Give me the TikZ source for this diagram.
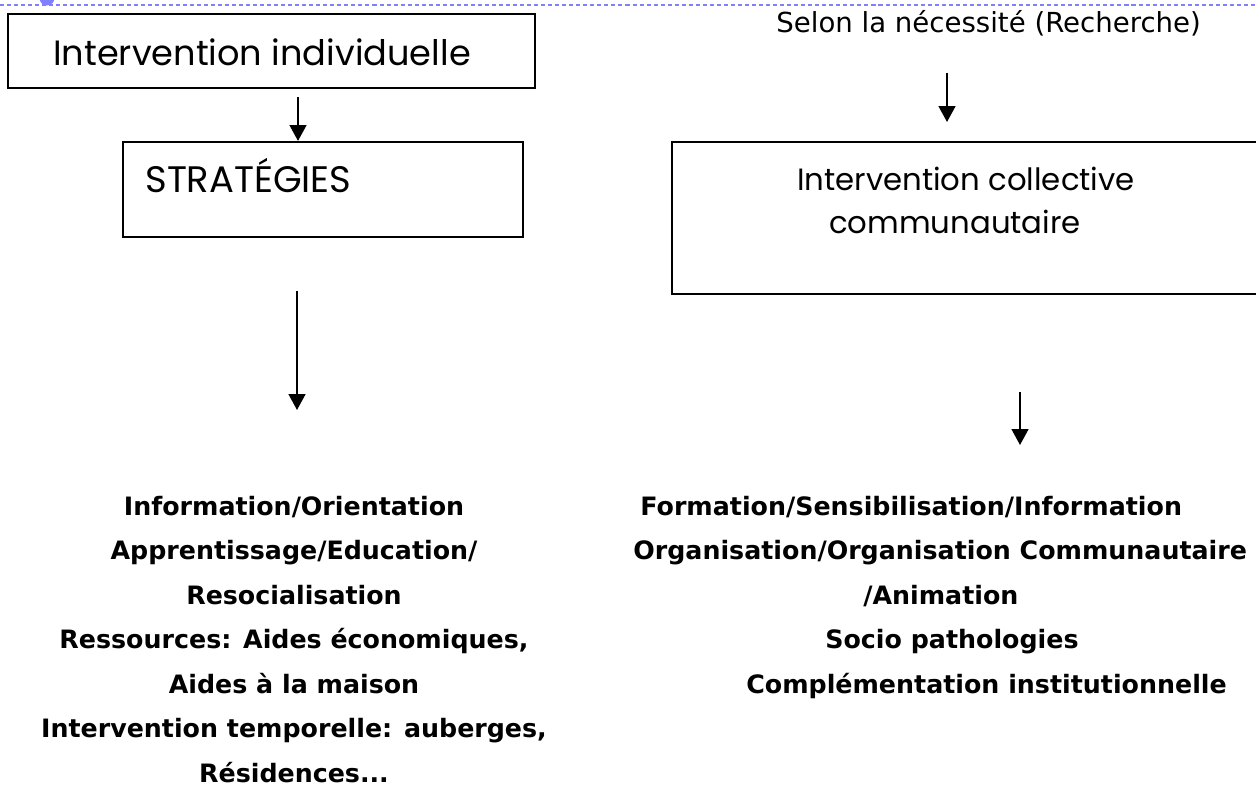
\documentclass[tikz,border=0pt]{standalone}
\usepackage{fontspec}
\setmainfont{DejaVu Sans}
\newfontfamily\comicfont{Poppins}
\usepackage{tikz}
\usetikzlibrary{arrows.meta, positioning}
\usetikzlibrary{calc}

\definecolor{bleutrait}{RGB}{128,128,255}

\tikzset{
  boite/.style={draw, rectangle, line width=1.2pt, inner sep=0pt},
  fleche/.style={-{Triangle[width=9.5pt,length=9pt]}, line width=1.1pt},
  liste/.style={font=\fontsize{14.4}{17}\selectfont\bfseries, inner sep=0pt},
  titre/.style={font=\comicfont\fontsize{20}{24}\selectfont, inner sep=0pt, anchor=base},
}

\begin{document}
\begin{tikzpicture}[x=0.02cm, y=-0.02cm]

  \useasboundingbox (0,0) rectangle (1256,787);
  \clip (0,0) rectangle (1256,787);

  % ==== Top border ====
  \fill[bleutrait] (47,-2) circle (0.15cm);
  \draw[bleutrait, line width=1.4pt, dash pattern=on 2.3pt off 1.7pt] (0,5) -- (1256,5);

  % ==== Left: individual intervention ====

  % boxes
  \node[boite, minimum width=10.54cm, minimum height=1.48cm] (indiv) at (271.5,51) {};
  \node[titre] (tindiv) at (262,66) {Intervention individuelle};

  \node[boite, minimum width=8cm, minimum height=1.9cm] (strat) at (323,189.5) {};
  \node[titre, anchor=base west, font=\comicfont\fontsize{21}{24}\selectfont] (tstrat) at (145,193) {STRATÉGIES};

  % arrows
  \coordinate (d1) at (298,97);
  \draw[fleche] (d1) -- (d1 |- strat.north);

  \coordinate (d2) at (297,291);
  \coordinate (f2) at (297,410);
  \draw[fleche] (d2) -- (f2);

  % list
  \node[liste, anchor=base] (l1) at (294,515) {Information/Orientation};
  \node[liste, anchor=base] (l2) at (294,559) {Apprentissage/Education/};
  \node[liste, anchor=base] (l3) at (294,604) {Resocialisation};
  \node[liste, anchor=base] (l4) at (294,648) {Ressources: Aides économiques,};
  \node[liste, anchor=base] (l5) at (294,693) {Aides à la maison};
  \node[liste, anchor=base] (l6) at (294,737) {Intervention temporelle: auberges,};
  \node[liste, anchor=base] (l7) at (294,782) {Résidences...};

  % ==== Right: collective intervention ====

  \node[anchor=base west, inner sep=0pt, font=\fontsize{15.7}{19}\selectfont] (besoin) at (776,33) {Selon la nécessité (Recherche)};

  \node[boite, minimum width=12.36cm, minimum height=3.04cm] (coll) at (981,218) {};
  \node[titre, font=\comicfont\fontsize{17.5}{21}\selectfont] (tcoll1) at (966,191) {Intervention collective};
  \node[titre, font=\comicfont\fontsize{17.5}{21}\selectfont] (tcoll2) at (955,233) {communautaire};

  % arrows
  \coordinate (d3) at (947,73);
  \coordinate (f3) at (947,122);
  \draw[fleche] (d3) -- (f3);

  \coordinate (d4) at (1020,392);
  \coordinate (f4) at (1020,445);
  \draw[fleche] (d4) -- (f4);

  % list
  \node[liste, anchor=base west] (r1) at (640,515) {Formation/Sensibilisation/Information};
  \node[liste, anchor=base west] (r2) at (633,559) {Organisation/Organisation Communautaire};
  \node[liste, anchor=base west] (r3) at (863,604) {/Animation};
  \node[liste, anchor=base west] (r4) at (825,648) {Socio pathologies};
  \node[liste, anchor=base west] (r5) at (746,693) {Complémentation institutionnelle};

\end{tikzpicture}
\end{document}
